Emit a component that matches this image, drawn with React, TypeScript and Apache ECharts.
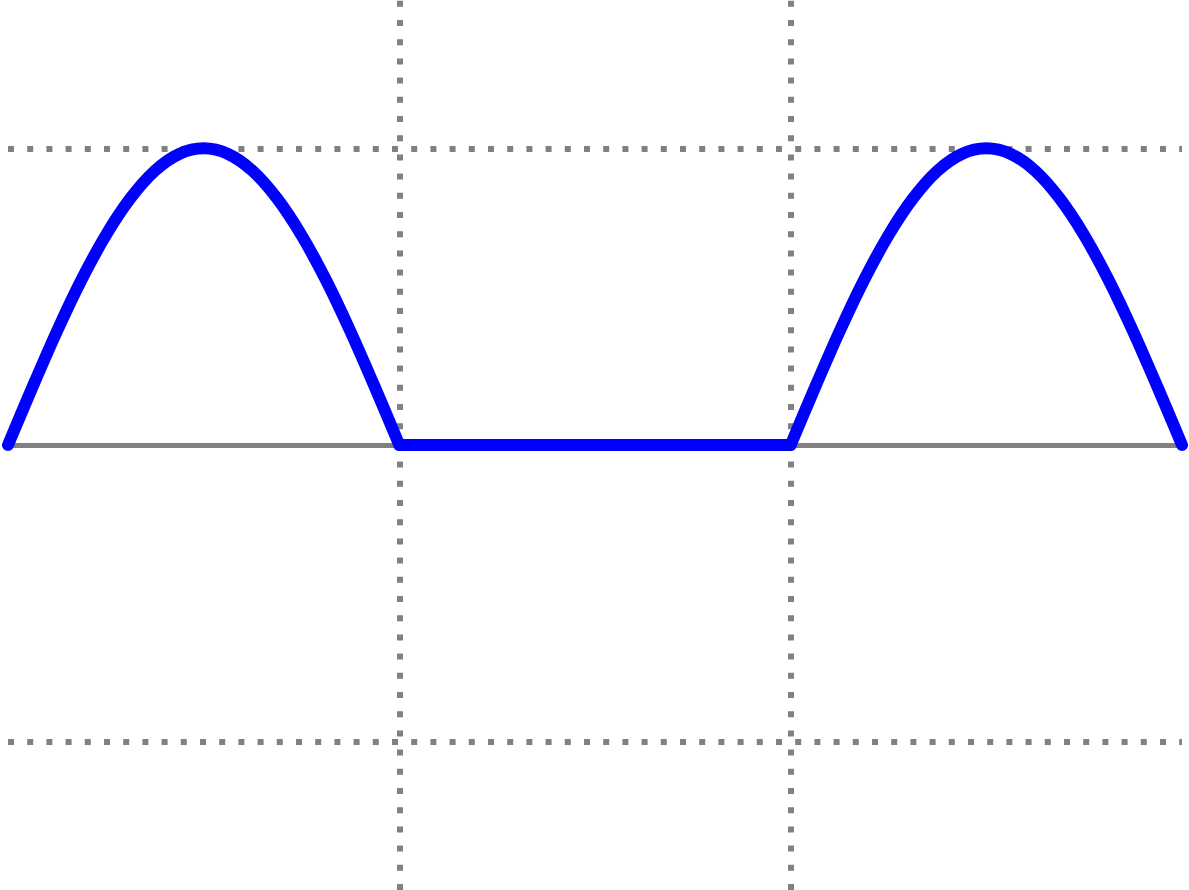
import React, { useEffect, useRef } from "react";
import * as echarts from "echarts";

const hump1X = [0, 0.0625, 0.125, 0.1875, 0.25, 0.3125, 0.375, 0.4375, 0.5, 0.5625, 0.625, 0.6875, 0.75, 0.8125, 0.875, 0.9375, 1];
const flatX = [1, 2];
const hump2X = [2, 2.0625, 2.125, 2.1875, 2.25, 2.3125, 2.375, 2.4375, 2.5, 2.5625, 2.625, 2.6875, 2.75, 2.8125, 2.875, 2.9375, 3];
const hump1Y = [0, 0.195, 0.383, 0.556, 0.707, 0.831, 0.924, 0.981, 1, 0.981, 0.924, 0.831, 0.707, 0.556, 0.383, 0.195, 0];
const flatY = [0, 0];
const hump2Y = [0, 0.195, 0.383, 0.556, 0.707, 0.831, 0.924, 0.981, 1, 0.981, 0.924, 0.831, 0.707, 0.556, 0.383, 0.195, 0];
const verticalGrid = [1, 2];
const horizontalGrid = [1, -1];
const baseline = 0;

const pairs = (xs: number[], ys: number[]) => xs.map((x, i) => [x, ys[i]]);

export default function App() {
  const ref = useRef<HTMLDivElement>(null);
  useEffect(() => {
    if (!ref.current) return;
    const chart = echarts.init(ref.current, undefined, { renderer: "svg" });
    const dotted = { color: "#808080", width: 6, type: [6, 13.2] as any, cap: "butt" as any };
    const blue = { color: "#0000ff", width: 12, cap: "round", join: "round" };
    const curve = (data: number[][], smooth: number | boolean) => ({
      type: "line",
      z: 5,
      data,
      showSymbol: false,
      smooth,
      lineStyle: blue,
      itemStyle: { color: "#0000ff" },
    });
    chart.setOption({
      animation: false,
      grid: { left: 8, right: 7, top: 0, bottom: 0, containLabel: false },
      xAxis: {
        type: "value", min: 0, max: 3,
        axisLine: { show: false }, axisTick: { show: false }, axisLabel: { show: false }, splitLine: { show: false },
      },
      yAxis: {
        type: "value", min: -1.5, max: 1.5,
        axisLine: { show: false }, axisTick: { show: false }, axisLabel: { show: false }, splitLine: { show: false },
      },
      series: [
        {
          type: "line",
          data: [],
          z: 1,
          silent: true,
          markLine: {
            symbol: "none",
            silent: true,
            label: { show: false },
            emphasis: { disabled: true },
            data: [
              ...verticalGrid.map((v) => ({ xAxis: v, lineStyle: dotted })),
              ...horizontalGrid.map((v) => ({ yAxis: v, lineStyle: dotted })),
              { yAxis: baseline, lineStyle: { color: "#808080", width: 5, type: "solid" } },
            ],
          },
        },
        curve(pairs(hump1X, hump1Y), 0.3),
        curve(pairs(flatX, flatY), false),
        curve(pairs(hump2X, hump2Y), 0.3),
      ],
    });
    return () => chart.dispose();
  }, []);
  return (
    <div
      ref={ref}
      style={{ position: "absolute", left: 0, top: 0, width: 1189, height: 890, background: "#ffffff" }}
    />
  );
}
